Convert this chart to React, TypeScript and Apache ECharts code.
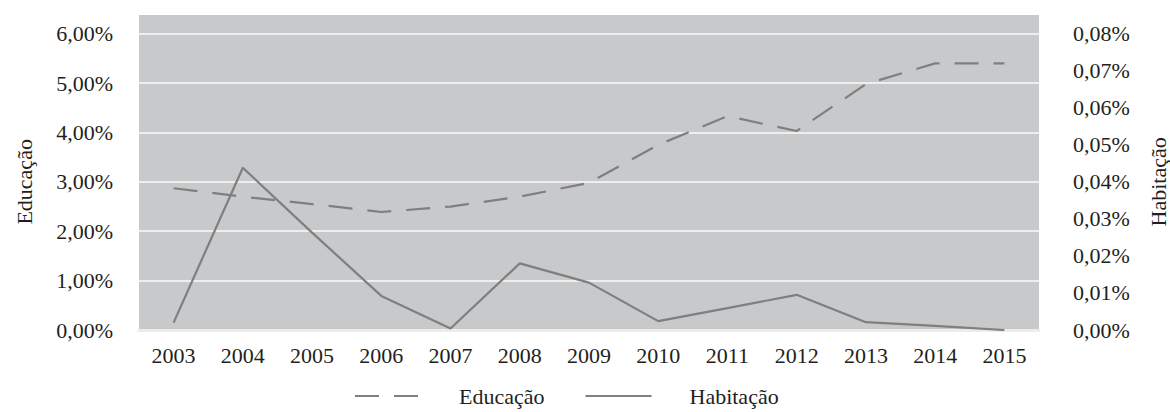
import React, { useEffect, useRef } from "react";
import * as echarts from "echarts";

const years = ["2003", "2004", "2005", "2006", "2007", "2008", "2009", "2010", "2011", "2012", "2013", "2014", "2015"];
const educacao = [2.87, 2.7, 2.55, 2.39, 2.5, 2.7, 2.98, 3.75, 4.33, 4.03, 4.98, 5.4, 5.4];
const habitacao = [0.002, 0.0438, 0.0263, 0.0092, 0.0004, 0.018, 0.0128, 0.0024, 0.0059, 0.0095, 0.0021, 0.0011, 0.0];
const leftTicks = { min: 0, max: 6, interval: 1 };
const rightTicks = { min: 0, max: 0.08, interval: 0.01 };

const FONT = "'Liberation Serif', 'Times New Roman', serif";
const TXT = "#231f20";
const LINE = "#7f7f7f";
const FS = 22;

export default function App() {
  const ref = useRef<HTMLDivElement>(null);
  useEffect(() => {
    if (!ref.current) return;
    const chart = echarts.init(ref.current, undefined, { renderer: "svg" });
    const fmt = (d: number) => (v: number) => v.toFixed(d).replace(".", ",") + "%";
    chart.setOption({
      animation: false,
      textStyle: { fontFamily: FONT },
      graphic: [
        {
          type: "rect",
          z: -10,
          silent: true,
          shape: { x: 139, y: 15, width: 900, height: 316 },
          style: { fill: "#c8c9cb" },
        },
      ],
      grid: { left: 139, right: 131, top: 33.7, bottom: 82, containLabel: false, outerBoundsMode: "none" },
      legend: {
        bottom: 0,
        left: 349,
        itemWidth: 66,
        itemHeight: 14,
        itemGap: 40,
        data: ["Educação", "Habitação"],
        itemStyle: { color: "rgba(0,0,0,0)", borderWidth: 0, opacity: 0 },
        textStyle: { fontFamily: FONT, fontSize: FS, color: TXT, padding: [0, 0, 0, 33] },
      },
      xAxis: {
        type: "category",
        data: years,
        boundaryGap: true,
        axisLine: { show: true, lineStyle: { color: "#ececec", width: 3 } },
        axisTick: { show: false },
        axisLabel: { fontFamily: FONT, fontSize: FS, color: TXT, margin: 14 },
      },
      yAxis: [
        {
          type: "value",
          ...leftTicks,
          name: "Educação",
          nameLocation: "middle",
          nameGap: 104,
          nameRotate: 90,
          nameTextStyle: { fontFamily: FONT, fontSize: FS, color: TXT },
          axisLine: { show: false },
          axisTick: { show: false },
          axisLabel: { fontFamily: FONT, fontSize: FS, color: TXT, margin: 26, formatter: fmt(2) },
          splitLine: { show: true, lineStyle: { color: "#eeeeee", width: 2 } },
        },
        {
          type: "value",
          ...rightTicks,
          name: "Habitação",
          nameLocation: "middle",
          nameGap: 108,
          nameRotate: 90,
          nameTextStyle: { fontFamily: FONT, fontSize: FS, color: TXT },
          axisLine: { show: false },
          axisTick: { show: false },
          axisLabel: { fontFamily: FONT, fontSize: FS, color: TXT, margin: 34, formatter: fmt(2) },
          splitLine: { show: false },
        },
      ],
      series: [
        {
          name: "Educação",
          type: "line",
          yAxisIndex: 0,
          data: educacao,
          symbol: "none",
          itemStyle: { color: LINE },
          lineStyle: { color: LINE, width: 2.2, type: [24, 15] },
        },
        {
          name: "Habitação",
          type: "line",
          yAxisIndex: 1,
          data: habitacao,
          symbol: "none",
          itemStyle: { color: LINE },
          lineStyle: { color: LINE, width: 2.2, type: "solid" },
        },
      ],
    });
    return () => chart.dispose();
  }, []);
  return <div ref={ref} style={{ width: 1170, height: 412, position: "absolute", left: 0, top: 0, background: "#fff" }} />;
}
